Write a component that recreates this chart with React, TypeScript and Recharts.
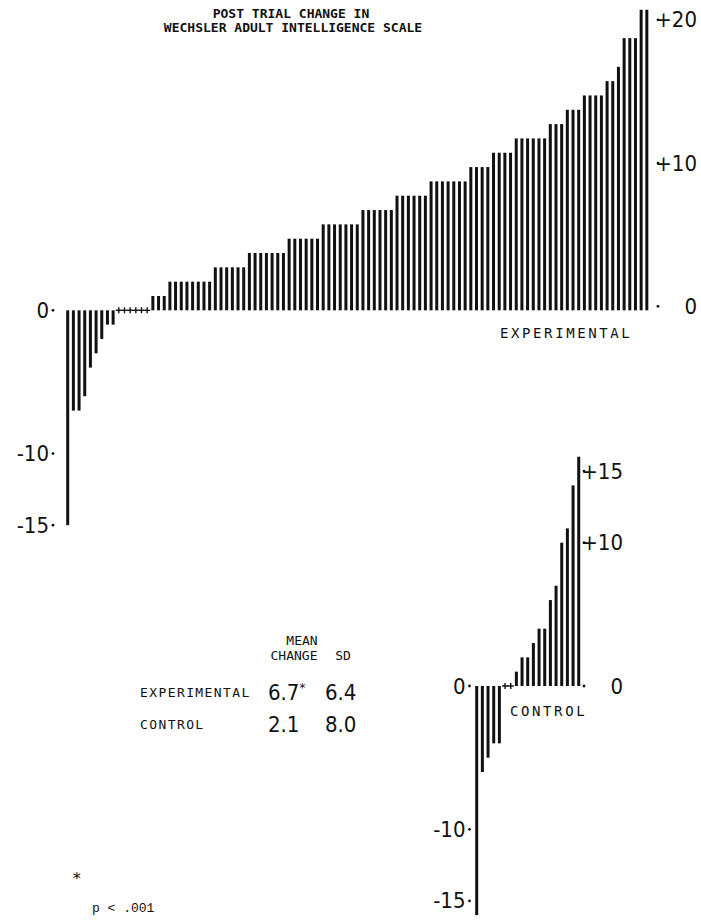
import React from 'react';
import { Bar, BarChart, XAxis, YAxis } from 'recharts';

// change score per subject, sorted low to high
const experimentalChange = [
  -15, -7, -7, -6, -4, -3, -2, -1, -1,
  0, 0, 0, 0, 0, 0,
  1, 1, 1,
  2, 2, 2, 2, 2, 2, 2, 2,
  3, 3, 3, 3, 3, 3,
  4, 4, 4, 4, 4, 4, 4,
  5, 5, 5, 5, 5, 5,
  6, 6, 6, 6, 6, 6, 6,
  7, 7, 7, 7, 7, 7,
  8, 8, 8, 8, 8, 8,
  9, 9, 9, 9, 9, 9, 9,
  10, 10, 10, 10,
  11, 11, 11, 11,
  12, 12, 12, 12, 12, 12,
  13, 13, 13,
  14, 14, 14,
  15, 15, 15, 15,
  16, 16,
  17,
  19, 19, 19,
  21, 21,
];
const controlChange = [-16, -6, -5, -4, -4, 0, 0, 1, 2, 2, 3, 4, 4, 6, 7, 10, 11, 14, 16];

const expLeftTicks = [0, -10, -15];
const expRightTicks = [20, 10, 0];
const ctlLeftTicks = [0, -10, -15];
const ctlRightTicks = [15, 10, 0];

const groups = ['EXPERIMENTAL', 'CONTROL'];
const meanChange = ['6.7', '2.1'];
const sdValues = ['6.4', '8.0'];

const ink = '#111';
const mono = "'DejaVu Sans Mono', monospace";
const numFont: React.CSSProperties = {
  fontFamily: "'DejaVu Sans Condensed', 'DejaVu Sans', sans-serif",
  fontStretch: 'condensed',
  fontSize: 22,
};

const Stick = (p: any) => {
  const { x, y, width, height } = p;
  const cx = x + width / 2;
  if (Math.abs(height) < 0.5) {
    // zero change: little tick on the baseline
    return (
      <g>
        <line x1={cx - 3} x2={cx + 3} y1={y} y2={y} stroke={ink} strokeWidth={1.4} />
        <line x1={cx} x2={cx} y1={y - 3} y2={y + 3} stroke={ink} strokeWidth={1.4} />
      </g>
    );
  }
  const top = Math.min(y, y + height);
  return <rect x={x} y={top} width={width} height={Math.abs(height)} fill={ink} />;
};

const leftTick = (dotX: number) => (props: any) => {
  const { y, payload } = props;
  return (
    <g>
      <text x={dotX - 4} y={y} textAnchor='end' dominantBaseline='central' fill={ink} style={numFont}>
        {payload.value}
      </text>
      <circle cx={dotX} cy={y} r={1.4} fill={ink} />
    </g>
  );
};

const rightTick = (dotX: number, textEnd: number, dy: number) => (props: any) => {
  const { y, payload } = props;
  const label = payload.value > 0 ? `+${payload.value}` : `${payload.value}`;
  return (
    <g>
      <circle cx={dotX} cy={y + dy} r={1.4} fill={ink} />
      <text x={textEnd} y={y + dy} textAnchor='end' dominantBaseline='central' fill={ink} style={numFont}>
        {label}
      </text>
    </g>
  );
};

const expData = experimentalChange.map((v, i) => ({ idx: i, v }));
const ctlData = controlChange.map((v, i) => ({ idx: i, v }));

export default function App() {
  return (
    <div style={{ position: 'absolute', left: 0, top: 0, width: 701, height: 920, overflow: 'hidden', background: '#fff' }}>
      <svg width={701} height={920} style={{ position: 'absolute', left: 0, top: 0 }}>
        <g fontFamily={mono} fontWeight='bold' fontSize={13} fill={ink}>
          <text x={291} y={18} textAnchor='middle'>POST TRIAL CHANGE IN</text>
          <text x={293} y={32} textAnchor='middle'>WECHSLER ADULT INTELLIGENCE SCALE</text>
        </g>
        <g fontFamily={mono} fontSize={14} fill={ink} letterSpacing={2.6}>
          <text x={500} y={338}>EXPERIMENTAL</text>
          <text x={510} y={716}>CONTROL</text>
        </g>
        <g fontFamily={mono} fontSize={13} fill={ink}>
          <text x={302} y={645} textAnchor='middle'>MEAN</text>
          <text x={294} y={660} textAnchor='middle'>CHANGE</text>
          <text x={343} y={660} textAnchor='middle'>SD</text>
          {groups.map((g, i) => (
            <text key={g} x={140} y={697 + i * 32} letterSpacing={1.4}>{g}</text>
          ))}
        </g>
        {groups.map((g, i) => (
          <g key={g + 'v'} fill={ink} style={numFont}>
            <text x={268} y={700 + i * 32}>
              {meanChange[i]}
              {i === 0 ? <tspan fontSize={13} dy={-8}>*</tspan> : null}
            </text>
            <text x={325} y={700 + i * 32}>{sdValues[i]}</text>
          </g>
        ))}
        <text x={72} y={884} fontFamily={mono} fontSize={16} fill={ink}>*</text>
        <text x={92} y={912} fontFamily="'Liberation Mono', monospace" fontSize={13} fill={ink}>p &lt; .001</text>
      </svg>

      <div style={{ position: 'absolute', left: 0, top: 0 }}>
        <BarChart width={701} height={560} data={expData} margin={{ top: 9.5, right: 11, bottom: 20.5, left: 5.2 }}>
          <XAxis dataKey='idx' hide />
          <YAxis
            yAxisId='l'
            type='number'
            domain={[-16, 21]}
            ticks={expLeftTicks}
            width={60}
            axisLine={false}
            tickLine={false}
            tick={leftTick(53)}
            allowDataOverflow
          />
          <YAxis
            yAxisId='r'
            orientation='right'
            type='number'
            domain={[-16, 21]}
            ticks={expRightTicks}
            width={40}
            axisLine={false}
            tickLine={false}
            tick={rightTick(658, 697, -4)}
            allowDataOverflow
          />
          <Bar yAxisId='l' dataKey='v' barSize={3} shape={Stick} isAnimationActive={false} />
        </BarChart>
      </div>

      <div style={{ position: 'absolute', left: 400, top: 430 }}>
        <BarChart width={301} height={490} data={ctlData} margin={{ top: 12.4, right: 59.1, bottom: 4.7, left: 4.2 }}>
          <XAxis dataKey='idx' hide />
          <YAxis
            yAxisId='l'
            type='number'
            domain={[-16, 17]}
            ticks={ctlLeftTicks}
            width={70}
            axisLine={false}
            tickLine={false}
            tick={leftTick(69.5)}
            allowDataOverflow
          />
          <YAxis
            yAxisId='r'
            orientation='right'
            type='number'
            domain={[-16, 17]}
            ticks={ctlRightTicks}
            width={60}
            axisLine={false}
            tickLine={false}
            tick={rightTick(184, 223, 0)}
            allowDataOverflow
          />
          <Bar yAxisId='l' dataKey='v' barSize={3} shape={Stick} isAnimationActive={false} />
        </BarChart>
      </div>
    </div>
  );
}
